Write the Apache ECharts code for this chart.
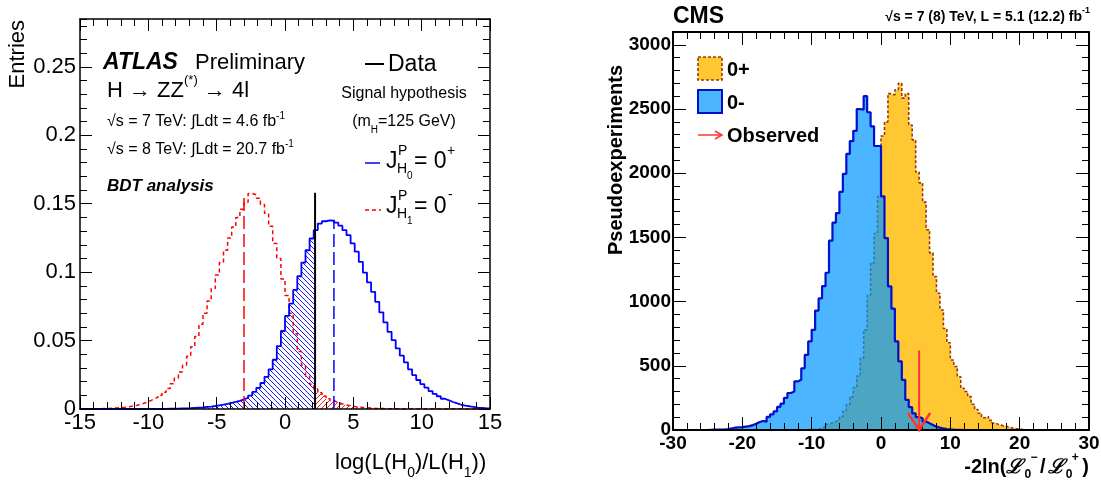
<!DOCTYPE html>
<html><head><meta charset="utf-8">
<script src="https://cdn.jsdelivr.net/npm/echarts@6/dist/echarts.min.js"></script>
<style>html,body{margin:0;padding:0;background:#fff}#c{width:1101px;height:481px}</style>
</head><body><div id="c"></div>
<script>
// ===================== DATA =====================
// ATLAS panel: histograms of log(L(H0)/L(H1)), 100 bins of 0.3 from -15 to 15
const atlasBinStart = -15;
const atlasBinWidth = 0.3;
const atlasXRange = [-15, 15];
const atlasYRange = [0, 0.285];
const atlasXTickStep = 5;
const atlasYTickStep = 0.05;
// J^P = 0+ (H0), blue solid
const atlasH0 = [
 0,0,0,0,0,0,0,0,0,0,
 0,0,0,0,0,0,0,0,0,0,
 0.0001,0.0002,0.0002,0.0003,0.0004,0.0005,0.0006,0.0008,0.001,0.0012,
 0.0015,0.0018,0.0022,0.0027,0.0032,0.0038,0.0045,0.0052,0.006,0.007,
 0.0082,0.0098,0.0125,0.0155,0.019,0.0235,0.029,0.036,0.046,0.057,
 0.068,0.077,0.087,0.097,0.107,0.116,0.1246,0.1307,0.1355,0.1372,
 0.1378,0.1377,0.1362,0.134,0.1307,0.127,0.121,0.115,0.1075,0.0997,
 0.0925,0.0856,0.0783,0.0706,0.0633,0.0564,0.0504,0.0443,0.039,0.034,
 0.029,0.0248,0.0212,0.0182,0.0156,0.0131,0.011,0.0093,0.0075,0.0063,
 0.0051,0.0041,0.0031,0.0024,0.002,0.0015,0.001,0.0008,0.0006,0.0005
];
// J^P = 0- (H1), red dashed
const atlasH1 = [
 0,0.0001,0.0001,0.0002,0.0002,0.0003,0.0004,0.0006,0.0008,0.001,
 0.0013,0.0017,0.0022,0.0028,0.0036,0.0046,0.0058,0.0072,0.0085,0.01,
 0.0122,0.015,0.0185,0.0225,0.027,0.032,0.0385,0.0455,0.053,0.062,
 0.07,0.079,0.088,0.098,0.107,0.116,0.125,0.133,0.14,0.146,
 0.151,0.1575,0.1565,0.154,0.1495,0.143,0.1335,0.121,0.11,0.095,
 0.083,0.07,0.055,0.042,0.032,0.024,0.018,0.0146,0.0118,0.0095,
 0.0075,0.006,0.0047,0.0037,0.0029,0.0023,0.0018,0.0014,0.0011,0.0009,
 0.0007,0.0005,0.0004,0.0003,0.0002,0.0002,0.0001,0.0001,0,0,
 0,0,0,0,0,0,0,0,0,0,
 0,0,0,0,0,0,0,0,0,0
];
const atlasObserved = 2.2;          // data line position
const atlasObservedTop = 0.158;
const atlasMedianH0 = 3.58, atlasMedianH0Top = 0.138;
const atlasMedianH1 = -3.0, atlasMedianH1Top = 0.156;

// CMS panel: pseudoexperiments vs -2ln(L0-/L0+), 120 bins of 0.5 from -30 to 30
const cmsBinStart = -30;
const cmsBinWidth = 0.5;
const cmsXRange = [-30, 30];
const cmsYRange = [0, 3100];
const cmsXTickStep = 10;
const cmsYTickStep = 500;
const cmsZeroMinus = [
 0,0,0,0,0,0,0,0,0,0,
 2,3,3,4,5,8,12,18,20,22,
 26,30,38,48,62,70,65,102,122,145,
 180,205,250,288,300,378,392,480,585,690,
 780,930,1025,1120,1225,1475,1615,1690,1855,1995,
 2150,2250,2330,2500,2495,2600,2475,2365,2212,2212,
 1820,1495,1118,945,690,535,390,235,178,130,
 100,92,66,52,39,26,18,12,8,5,
 3,2,1,0,0,0,0,0,0,0,
 0,0,0,0,0,0,0,0,0,0,
 0,0,0,0,0,0,0,0,0,0,
 0,0,0,0,0,0,0,0,0,0
];
const cmsZeroPlus = [
 0,0,0,0,0,0,0,0,0,0,
 0,0,0,0,0,0,0,0,0,0,
 0,0,0,0,0,0,0,0,0,0,
 0,0,0,0,0,0,0,0,2,3,
 5,8,15,28,45,55,65,80,104,150,
 200,260,330,420,560,780,1050,1300,1530,1820,
 2290,2400,2620,2610,2650,2700,2585,2620,2375,2260,
 2010,1925,1775,1560,1380,1195,1065,935,790,680,
 545,495,415,325,300,260,200,160,130,95,
 105,75,55,42,35,28,22,15,10,8,
 4,2,0,0,0,0,0,0,0,0,
 0,0,0,0,0,0,0,0,0,0
];
const cmsObserved = 5.5;
const cmsObservedArrowTop = 620;

// ===================== HELPERS =====================
const FONT = '"Liberation Sans", Arial, Helvetica, sans-serif';
const F = (size, style) => (style ? style + ' ' : '') + size + 'px ' + FONT;

function stepData(vals, start, width, from, to) {
  const pts = []; let last = null;
  vals.forEach((v, i) => {
    const lo = +(start + i * width).toFixed(6), hi = +(start + (i + 1) * width).toFixed(6);
    if (hi <= from || lo >= to) return;
    pts.push([Math.max(lo, from), v]);
    last = [Math.min(hi, to), v];
  });
  if (last) pts.push(last);
  return pts;
}

function hatch(color, dir) {
  const s = 5;
  const c = document.createElement('canvas'); c.width = s; c.height = s;
  const g = c.getContext('2d');
  g.strokeStyle = color; g.lineWidth = 1;
  g.beginPath();
  [-s, 0, s].forEach(o => {
    if (dir === 'back') { g.moveTo(o, 0); g.lineTo(o + s, s); }
    else { g.moveTo(o, s); g.lineTo(o + s, 0); }
  });
  g.stroke();
  return { image: c, repeat: 'repeat' };
}

const mctx = document.createElement('canvas').getContext('2d');
function tw(t, font) { mctx.font = font; return mctx.measureText(t).width; }
function txt(x, y, t, font, opt) {
  opt = opt || {};
  return { type: 'text', x, y, rotation: opt.rotation || 0, silent: true, z: 20,
    style: { text: t, font, fill: opt.fill || '#000', align: opt.align || 'left', verticalAlign: opt.va || 'middle' } };
}
function run(x, y, parts, align) {
  const ws = parts.map(p => tw(p.t, p.font));
  const total = ws.reduce((a, b) => a + b, 0);
  let cx = align === 'right' ? x - total : align === 'center' ? x - total / 2 : x;
  return parts.map((p, i) => { const el = txt(cx + (p.dx || 0), y + (p.dy || 0), p.t, p.font); cx += ws[i] + (p.dx || 0); return el; });
}

function makeAxes(grid, range, major, minor, posMain, posOpp, label, lens, lineW) {
  const common = { gridIndex: grid, type: 'value', min: range[0], max: range[1], splitLine: { show: false }, z: 5, silent: true };
  const line = { show: true, onZero: false, lineStyle: { color: '#000', width: lineW } };
  const noLine = { show: false, onZero: false };
  const tick = len => ({ show: true, inside: true, length: len, lineStyle: { color: '#000', width: 1 } });
  return [
    Object.assign({}, common, { position: posMain, interval: major, axisLine: line, axisTick: tick(lens[0]), axisLabel: label }),
    Object.assign({}, common, { position: posMain, interval: minor, axisLine: noLine, axisTick: tick(lens[1]), axisLabel: { show: false } }),
    Object.assign({}, common, { position: posOpp, interval: major, axisLine: line, axisTick: tick(lens[0]), axisLabel: { show: false } }),
    Object.assign({}, common, { position: posOpp, interval: minor, axisLine: noLine, axisTick: tick(lens[1]), axisLabel: { show: false } })
  ];
}

// ===================== OPTION =====================
const plain = v => String(+v.toFixed(6));
const leftLab = { show: true, fontSize: 22, fontFamily: FONT, color: '#000', formatter: plain };
const rightLab = { show: true, fontSize: 19, fontWeight: 'bold', fontFamily: FONT, color: '#000', formatter: plain };

const xAxes = [].concat(
  makeAxes(0, atlasXRange, atlasXTickStep, 1, 'bottom', 'top', Object.assign({}, leftLab, { margin: 3 }), [12, 7], 1.5),
  makeAxes(1, cmsXRange, cmsXTickStep, 2, 'bottom', 'top', Object.assign({}, rightLab, { margin: 4 }), [13, 7], 2)
);
const yAxes = [].concat(
  makeAxes(0, atlasYRange, atlasYTickStep, 0.01, 'left', 'right', Object.assign({}, leftLab, { margin: 4, showMaxLabel: false }), [12, 7], 1.5),
  makeAxes(1, cmsYRange, cmsYTickStep, 100, 'left', 'right', Object.assign({}, rightLab, { margin: 2, showMaxLabel: false }), [13, 7], 2)
);

const base = { type: 'line', symbol: 'none', showSymbol: false, silent: true, animation: false };
const series = [
  // ---- ATLAS ----
  Object.assign({}, base, { xAxisIndex: 0, yAxisIndex: 0, step: 'end', z: 2,
    data: stepData(atlasH1, atlasBinStart, atlasBinWidth, atlasObserved, atlasXRange[1]),
    lineStyle: { width: 0, opacity: 0 }, areaStyle: { color: hatch('#ff2020', 'fwd'), opacity: 1 } }),
  Object.assign({}, base, { xAxisIndex: 0, yAxisIndex: 0, step: 'end', z: 2,
    data: stepData(atlasH0, atlasBinStart, atlasBinWidth, atlasXRange[0], atlasObserved),
    lineStyle: { width: 0, opacity: 0 }, areaStyle: { color: hatch('#1a1aff', 'back'), opacity: 1 } }),
  Object.assign({}, base, { xAxisIndex: 0, yAxisIndex: 0, step: 'end', z: 3,
    data: stepData(atlasH1, atlasBinStart, atlasBinWidth, atlasXRange[0], atlasXRange[1]),
    lineStyle: { color: '#ff0000', width: 1.5, type: [4, 3] } }),
  Object.assign({}, base, { xAxisIndex: 0, yAxisIndex: 0, step: 'end', z: 3,
    data: stepData(atlasH0, atlasBinStart, atlasBinWidth, atlasXRange[0], atlasXRange[1]),
    lineStyle: { color: '#0000ff', width: 1.8 } }),
  Object.assign({}, base, { xAxisIndex: 0, yAxisIndex: 0, z: 4,
    data: [[atlasMedianH1, 0], [atlasMedianH1, atlasMedianH1Top]],
    lineStyle: { color: '#ff0000', width: 1.5, type: [13, 5] } }),
  Object.assign({}, base, { xAxisIndex: 0, yAxisIndex: 0, z: 4,
    data: [[atlasMedianH0, 0], [atlasMedianH0, atlasMedianH0Top]],
    lineStyle: { color: '#0000ff', width: 1.5, type: [13, 5] } }),
  Object.assign({}, base, { xAxisIndex: 0, yAxisIndex: 0, z: 4,
    data: [[atlasObserved, 0], [atlasObserved, atlasObservedTop]],
    lineStyle: { color: '#000', width: 2 } }),
  // ---- CMS ----
  Object.assign({}, base, { xAxisIndex: 4, yAxisIndex: 4, step: 'end', z: 2,
    data: stepData(cmsZeroPlus, cmsBinStart, cmsBinWidth, cmsXRange[0], cmsXRange[1]),
    lineStyle: { color: '#9a3a00', width: 1.6, type: [3, 2] }, areaStyle: { color: 'rgb(255,200,50)', opacity: 1 } }),
  Object.assign({}, base, { xAxisIndex: 4, yAxisIndex: 4, step: 'end', z: 3,
    data: stepData(cmsZeroMinus, cmsBinStart, cmsBinWidth, cmsXRange[0], cmsXRange[1]),
    lineStyle: { color: '#0010cc', width: 2.2 }, areaStyle: { color: 'rgba(0,150,255,0.7)', opacity: 1 } }),
  { type: 'custom', xAxisIndex: 4, yAxisIndex: 4, z: 6, silent: true, animation: false, clip: false,
    data: [[cmsObserved, cmsObservedArrowTop]],
    renderItem: function (params, api) {
      const top = api.coord([api.value(0), api.value(1)]);
      const bot = api.coord([api.value(0), 0]);
      return { type: 'group', children: [
        { type: 'line', shape: { x1: top[0], y1: top[1], x2: bot[0], y2: bot[1] }, style: { stroke: '#ff3333', lineWidth: 2 } },
        { type: 'polyline', shape: { points: [[bot[0] - 11, bot[1] - 17], [bot[0], bot[1]], [bot[0] + 11, bot[1] - 17]] }, style: { stroke: '#ff3333', lineWidth: 2.5, fill: null } }
      ] };
    } }
];

// ===================== TEXT / LEGENDS =====================
const G = [];
// ATLAS panel
G.push(txt(18, 20, 'Entries', F(22), { rotation: Math.PI / 2, align: 'right' }));
G.push(...run(335, 463, [
  { t: 'log(L(H', font: F(22) }, { t: '0', font: F(14), dy: 10 },
  { t: ')/L(H', font: F(22) }, { t: '1', font: F(14), dy: 10 }, { t: '))', font: F(22) }]));
G.push(txt(103, 63, 'ATLAS', F(23, 'italic bold')));
G.push(txt(195, 63, 'Preliminary', F(22)));
G.push(...run(107, 91, [{ t: 'H → ZZ', font: F(22) }, { t: '(*)', font: F(13), dy: -11 }, { t: ' → 4l', font: F(22) }]));
G.push(...run(107, 122, [{ t: '√s = 7 TeV: ∫Ldt = 4.6 fb', font: F(16) }, { t: '-1', font: F(10), dy: -6 }]));
G.push(...run(107, 150, [{ t: '√s = 8 TeV: ∫Ldt = 20.7 fb', font: F(16) }, { t: '-1', font: F(10), dy: -6 }]));
G.push(txt(107, 186, 'BDT analysis', F(17, 'italic bold')));
G.push({ type: 'line', z: 20, silent: true, shape: { x1: 365, y1: 64, x2: 384, y2: 64 }, style: { stroke: '#000', lineWidth: 2 } });
G.push(txt(388, 65, 'Data', F(23)));
G.push(txt(404, 94, 'Signal hypothesis', F(16), { align: 'center' }));
G.push(...run(404, 122, [{ t: '(m', font: F(16) }, { t: 'H', font: F(10), dy: 8 }, { t: '=125 GeV)', font: F(16) }], 'center'));
// J^P_H0 = 0+
G.push({ type: 'line', z: 20, silent: true, shape: { x1: 365, y1: 163, x2: 380, y2: 163 }, style: { stroke: '#0000ff', lineWidth: 1.5 } });
G.push(txt(386, 162, 'J', F(23)));
G.push(txt(398, 151, 'P', F(14)));
G.push(txt(397, 169, 'H', F(14)));
G.push(txt(407, 176, '0', F(10)));
G.push(txt(414, 162, '= 0', F(23)));
G.push(txt(447, 151, '+', F(14)));
// J^P_H1 = 0-
G.push({ type: 'line', z: 20, silent: true, shape: { x1: 365, y1: 210, x2: 381, y2: 210 }, style: { stroke: '#ff0000', lineWidth: 1.5, lineDash: [4, 3] } });
G.push(txt(386, 207, 'J', F(23)));
G.push(txt(398, 196, 'P', F(14)));
G.push(txt(397, 214, 'H', F(14)));
G.push(txt(407, 221, '1', F(10)));
G.push(txt(414, 207, '= 0', F(23)));
G.push(txt(448, 195, '-', F(14)));

// CMS panel
G.push(txt(673, 17, 'CMS', F(23, 'bold')));
G.push(...run(1090, 17, [{ t: '√s = 7 (8) TeV, L = 5.1 (12.2) fb', font: F(14, 'bold') }, { t: '-1', font: F(9, 'bold'), dy: -6 }], 'right'));
G.push(txt(616, 160, 'Pseudoexperiments', F(20, 'bold'), { rotation: Math.PI / 2, align: 'center' }));
(function () {
  const fM = F(20, 'bold'), fL = F(20, 'italic bold'), fS = F(12, 'bold');
  const y = 467;
  const items = [];
  let x = 0;
  items.push([x, y, '-2ln(', fM]); x += tw('-2ln(', fM);
  items.push([x, y, 'ℒ', fL]); x += tw('ℒ', fL) + 1;
  items.push([x, y + 8, '0', fS]); items.push([x + 6, y - 9, '−', fS]); x += tw('0', fS) + 9;
  items.push([x, y, '/', fM]); x += tw('/', fM) + 2;
  items.push([x, y, 'ℒ', fL]); x += tw('ℒ', fL) + 1;
  items.push([x, y + 8, '0', fS]); items.push([x + 6, y - 9, '+', fS]); x += tw('0', fS) + 10;
  items.push([x, y, ')', fM]); x += tw(')', fM);
  const shift = 1089 - x;
  items.forEach(it => G.push(txt(it[0] + shift, it[1], it[2], it[3])));
})();
// legend
G.push({ type: 'rect', z: 20, silent: true, shape: { x: 698, y: 57, width: 24, height: 23 }, style: { fill: 'rgb(255,200,50)', stroke: '#9a3a00', lineWidth: 1.6, lineDash: [3, 2] } });
G.push(txt(727, 70, '0+', F(20, 'bold')));
G.push({ type: 'rect', z: 20, silent: true, shape: { x: 698, y: 90, width: 24, height: 23 }, style: { fill: 'rgba(0,150,255,0.7)', stroke: '#0010cc', lineWidth: 2 } });
G.push(txt(727, 103, '0-', F(20, 'bold')));
G.push({ type: 'line', z: 20, silent: true, shape: { x1: 698, y1: 135, x2: 721, y2: 135 }, style: { stroke: '#ff3333', lineWidth: 1.5 } });
G.push({ type: 'polyline', z: 20, silent: true, shape: { points: [[715, 131], [722, 135], [715, 139]] }, style: { stroke: '#ff3333', lineWidth: 1.5, fill: null } });
G.push(txt(727, 136, 'Observed', F(20, 'bold')));

const option = {
  backgroundColor: '#fff',
  animation: false,
  grid: [
    { left: 80, top: 19, width: 410, height: 390, outerBoundsMode: 'none', containLabel: false },
    { left: 673, top: 32, width: 416, height: 398, outerBoundsMode: 'none', containLabel: false }
  ],
  xAxis: xAxes,
  yAxis: yAxes,
  series: series,
  graphic: G
};

const chart = echarts.init(document.getElementById('c'), null, { renderer: 'canvas' });
chart.setOption(option);
</script>
</body></html>
